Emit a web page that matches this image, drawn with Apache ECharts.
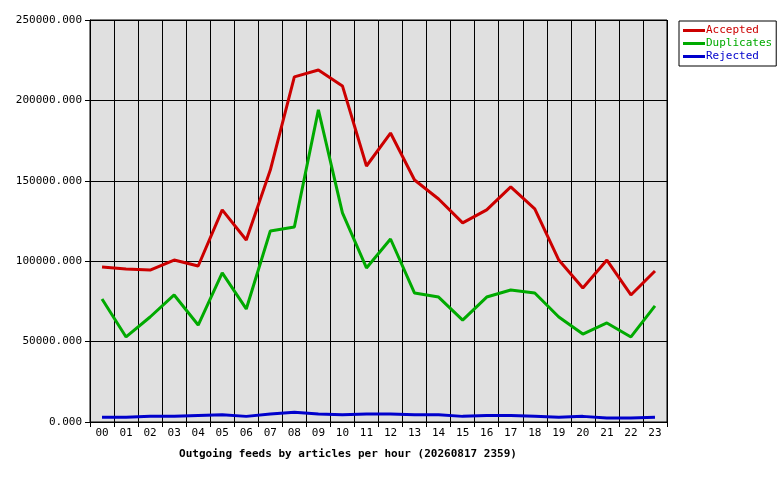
<!DOCTYPE html>
<html><head><meta charset="utf-8">
<script src="https://cdn.jsdelivr.net/npm/echarts@6/dist/echarts.min.js"></script>
<style>html,body{margin:0;background:#fff}#c{width:780px;height:480px}</style>
</head><body><div id="c"></div>
<script>
const hours = ['00','01','02','03','04','05','06','07','08','09','10','11','12','13','14','15','16','17','18','19','20','21','22','23'];
const accepted = [96400,95200,94500,100700,97000,131900,113200,156700,214600,218900,209000,159200,179700,150500,138700,123800,131900,146200,132500,100700,83300,100700,79000,93900];
const duplicates = [76500,52900,65300,79000,60300,92700,70300,118800,121300,194100,130000,95800,113800,80200,77700,63400,77700,82100,80200,65300,54700,61600,52900,72200];
const rejected = [3000,3000,3500,3500,4000,4500,3500,5000,6000,5000,4500,5000,5000,4500,4500,3500,4000,4000,3500,3000,3500,2500,2500,3000];
const title = 'Outgoing feeds by articles per hour (20260817 2359)';
const font = 'DejaVu Sans Mono';
const chart = echarts.init(document.getElementById('c'));
const mk = (name, data, color) => ({name, type:'line', data, symbol:'none', lineStyle:{color, width:3}, itemStyle:{color}});
chart.setOption({
  animation:false,
  textStyle:{fontFamily:font},
  title:{text:title, left:343, top:444, textAlign:'center', textStyle:{fontFamily:font, fontSize:11, fontWeight:'bold', color:'#000'}},
  legend:{orient:'vertical', left:679, top:21, itemGap:2, itemWidth:22, itemHeight:3, padding:[4,4,4,4],
    borderColor:'#000', borderWidth:1, borderRadius:0, icon:'rect',
    data:[{name:'Accepted',textStyle:{color:'#cc0000'}},{name:'Duplicates',textStyle:{color:'#00aa00'}},{name:'Rejected',textStyle:{color:'#0000cc'}}],
    textStyle:{fontFamily:font, fontSize:11, padding:[0,0,0,-4]}},
  grid:{left:90, top:20, width:577, height:402, backgroundColor:'#e0e0e0', show:true, borderColor:'#000', borderWidth:1},
  xAxis:{type:'category', data:hours, boundaryGap:true,
    axisLine:{lineStyle:{color:'#000'}}, axisTick:{show:true, alignWithLabel:false, lineStyle:{color:'#000'}},
    axisLabel:{color:'#000', fontSize:11, fontFamily:font, margin:6},
    splitLine:{show:true, lineStyle:{color:'#000', width:1}}},
  yAxis:{type:'value', min:0, max:250000, interval:50000,
    axisLine:{show:true, lineStyle:{color:'#000'}}, axisTick:{show:true, lineStyle:{color:'#000'}},
    axisLabel:{color:'#000', fontSize:11, fontFamily:font, formatter:v=>v.toFixed(3)},
    splitLine:{lineStyle:{color:'#000', width:1}}},
  series:[mk('Accepted',accepted,'#cc0000'), mk('Duplicates',duplicates,'#00aa00'), mk('Rejected',rejected,'#0000cc')]
});
</script></body></html>
